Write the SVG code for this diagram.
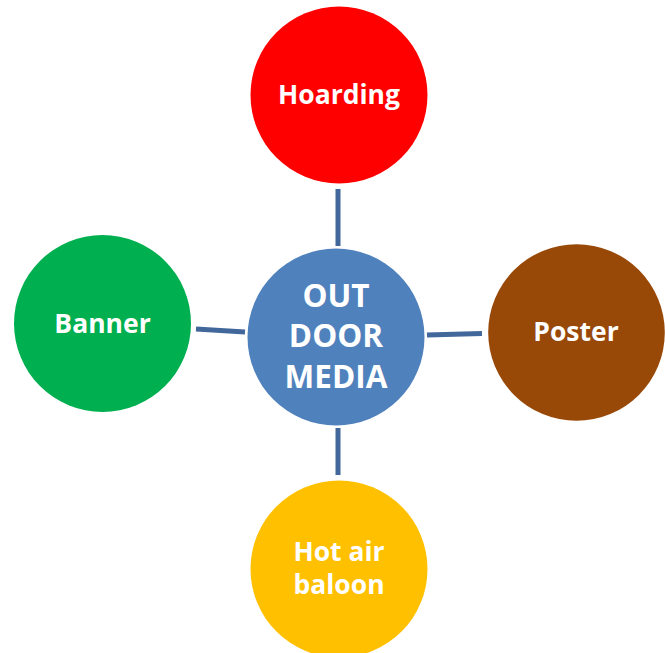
<svg xmlns="http://www.w3.org/2000/svg" width="665" height="653" viewBox="0 0 665 653">
<style>
.c{stroke:none}
.t{font-family:"Open Sans","Liberation Sans",sans-serif;font-weight:bold;font-size:26.5px;fill:#FFFFFF;text-anchor:middle}
.m{font-size:31.5px}
.l{stroke:#41679B;stroke-width:5;fill:none}
</style>
<rect width="665" height="653" fill="#FFFFFF"/>
<g id="connectors">
<line class="l" x1="338" y1="189" x2="338" y2="246"/>
<line class="l" x1="338" y1="428" x2="338" y2="475"/>
<line class="l" x1="196" y1="329" x2="245" y2="332"/>
<line class="l" x1="427" y1="335" x2="482" y2="333.5"/>
</g>
<g id="hoarding">
<circle class="c" cx="339" cy="95" r="88.5" fill="#FF0000"/>
<text class="t" x="339" y="104">Hoarding</text>
</g>
<g id="banner">
<circle class="c" cx="102.5" cy="323.5" r="88.5" fill="#00B050"/>
<text class="t" x="102.5" y="333">Banner</text>
</g>
<g id="center">
<circle class="c" cx="336" cy="337" r="88.5" fill="#4F81BD"/>
<text class="t m" x="336" y="307">OUT</text>
<text class="t m" x="336" y="347">DOOR</text>
<text class="t m" x="336" y="388">MEDIA</text>
</g>
<g id="poster">
<circle class="c" cx="576.5" cy="332.5" r="88.3" fill="#984807"/>
<text class="t" x="576" y="341">Poster</text>
</g>
<g id="hotair">
<circle class="c" cx="339" cy="569" r="88.5" fill="#FFC000"/>
<text class="t" x="339" y="561">Hot air</text>
<text class="t" x="339" y="594">baloon</text>
</g>
</svg>
